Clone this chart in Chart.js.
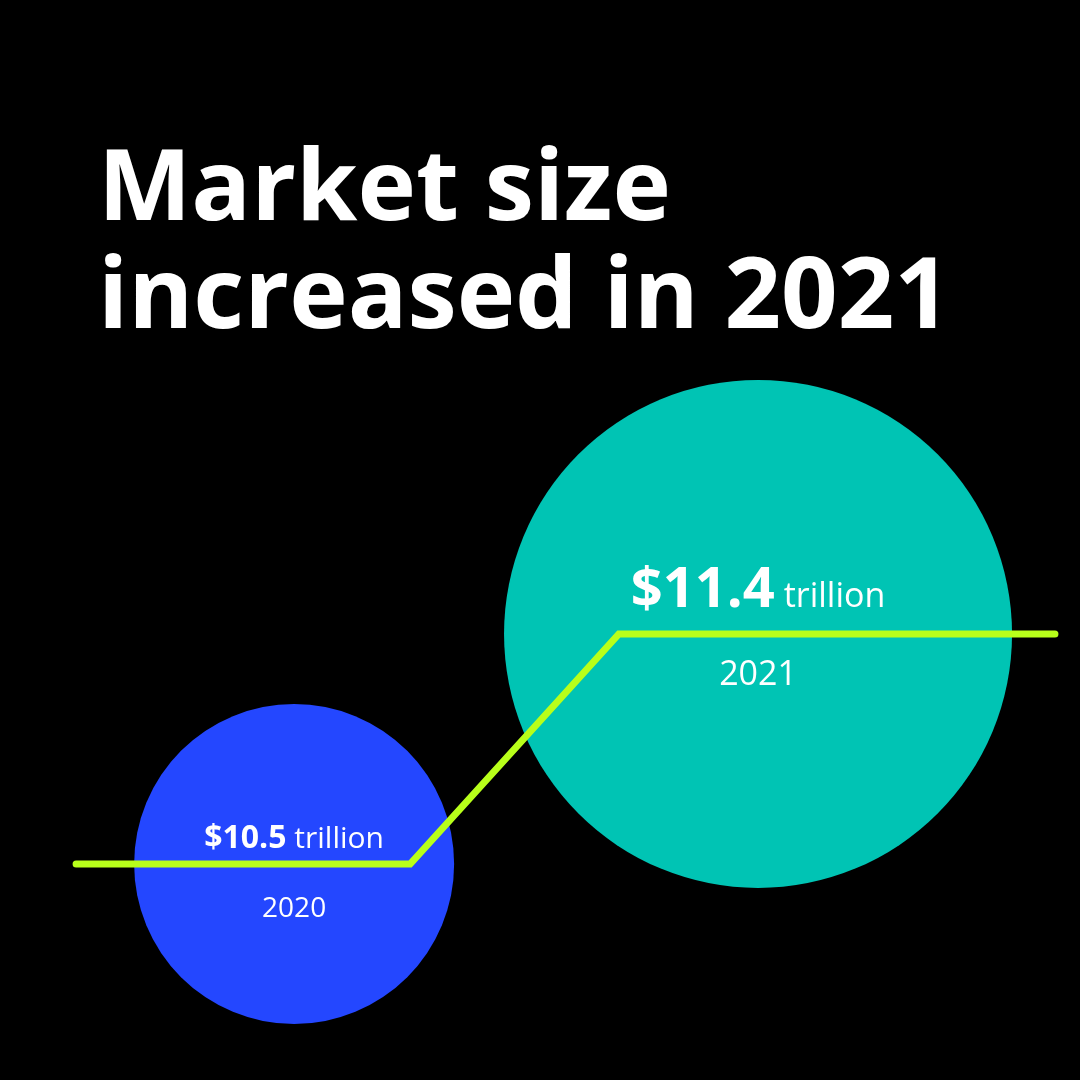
<!DOCTYPE html>
<html><head><meta charset="utf-8">
<script src="https://cdn.jsdelivr.net/npm/chart.js@4/dist/chart.umd.min.js"></script>
<style>html,body{margin:0;background:#000;}#w{width:1080px;height:1080px;}</style>
</head><body><div id="w"><canvas id="c"></canvas></div>
<script>
const years = [2020, 2021];
const values = [10.5, 11.4];
const yearLabels = ["2020", "2021"];
const lineYears = [2019.53, 2020.25, 2020.7, 2021.64];
const lineValues = [10.5, 10.5, 11.4, 11.4];
const titleLines = ["Market size", "increased in 2021"];

const bubbleRadius = [160, 254];
const bubbleColors = ["#2447FF", "#00C4B4"];
const F = '"Open Sans", "Noto Sans", sans-serif';

const labelPlugin = {
  id: 'labels',
  afterDraw(chart) {
    const ctx = chart.ctx;
    ctx.save();
    ctx.fillStyle = '#fff';
    ctx.textBaseline = 'alphabetic';
    ctx.textAlign = 'left';
    ctx.font = 'bold 99px ' + F;
    ctx.fillText(titleLines[0], 98, 220);
    ctx.fillText(titleLines[1], 98, 328);
    const sx = chart.scales.x, sy = chart.scales.y;
    const big = [{b:32,s:30,y:12,g:69},{b:56,s:34,y:-27,g:78}];
    years.forEach((yr, i) => {
      const cx = sx.getPixelForValue(yr), cy = sy.getPixelForValue(values[i]);
      const v = '$' + values[i].toFixed(1), t = ' trillion';
      ctx.font = 'bold ' + big[i].b + 'px ' + F; const w1 = ctx.measureText(v).width;
      ctx.font = big[i].s + 'px ' + F; const w2 = ctx.measureText(t).width;
      const x0 = cx - (w1 + w2) / 2, by = i ? 607 - 0 : 848;
      const byy = i ? cy - 27 : cy - 16;
      ctx.font = 'bold ' + big[i].b + 'px ' + F; ctx.fillText(v, x0, byy);
      ctx.font = big[i].s + 'px ' + F; ctx.fillText(t, x0 + w1, byy);
      ctx.textAlign = 'center';
      ctx.font = (i ? 34 : 28) + 'px ' + F;
      ctx.fillText(yearLabels[i], cx, byy + big[i].g);
      ctx.textAlign = 'left';
    });
    ctx.restore();
  }
};

new Chart(document.getElementById('c'), {
  data: {
    datasets: [
      { type: 'bubble', data: years.map((y, i) => ({x: y, y: values[i], r: bubbleRadius[i]})),
        backgroundColor: bubbleColors, borderWidth: 0, order: 2, clip: false },
      { type: 'line', data: lineYears.map((y, i) => ({x: y, y: lineValues[i]})),
        borderColor: '#B8FF1A', borderWidth: 7, pointRadius: 0, borderCapStyle: 'round',
        borderJoinStyle: 'miter', fill: false, order: 1, clip: false }
    ]
  },
  options: {
    responsive: true, maintainAspectRatio: false, animation: false,
    devicePixelRatio: 1,
    layout: { padding: 0, autoPadding: false },
    plugins: { legend: { display: false }, tooltip: { enabled: false } },
    scales: {
      x: { type: 'linear', display: false, min: 2019.366, max: 2021.694 },
      y: { type: 'linear', display: false, min: 9.655, max: 13.88 }
    }
  },
  plugins: [labelPlugin]
});
</script></body></html>
